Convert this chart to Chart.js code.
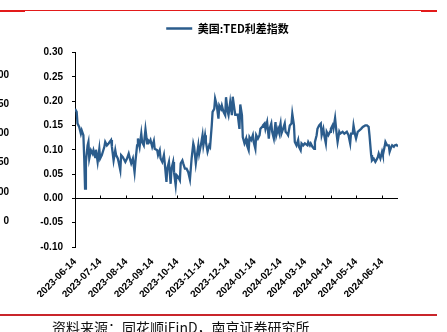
<!DOCTYPE html>
<html>
<head>
<meta charset="utf-8">
<script src="https://cdn.jsdelivr.net/npm/chart.js@4.4.0/dist/chart.umd.min.js"></script>
<style>
  html, body { margin: 0; padding: 0; background: #fff; }
  #wrap { position: relative; width: 447px; height: 332px; overflow: hidden; background: #fff; }
  #c { position: absolute; left: 0; top: 0; }
  .redTop { position: absolute; left: 0; top: 10px; width: 437px; height: 1px; background: #e31a1a; }
  .tab { position: absolute; top: 10px; height: 2px; background: #e31a1a; }
  .redBottom { position: absolute; left: 0; top: 314px; width: 437px; height: 2px; background: #c9252b; }
  .source { position: absolute; left: 52px; top: 320px; font-family: "Noto Sans CJK SC", sans-serif; font-size: 14px; line-height: 14px; color: #111; white-space: nowrap; }
  .cut { position: absolute; left: -21px; width: 30px; text-align: right; font-family: "Liberation Sans", Arial, sans-serif; font-weight: bold; font-size: 10px; line-height: 12px; color: #000; }
</style>
</head>
<body>
<div id="wrap">
  <canvas id="c" width="447" height="332"></canvas>
  <div class="redTop"></div>
  <div class="tab" style="left:0;width:25px"></div>
  <div class="tab" style="left:421px;width:16px"></div>
  <div class="redBottom"></div>
  <div class="source">资料来源：同花顺iFinD，南京证券研究所</div>
  <div class="cut" style="top:69px">00</div>
  <div class="cut" style="top:98px">50</div>
  <div class="cut" style="top:127px">00</div>
  <div class="cut" style="top:156px">50</div>
  <div class="cut" style="top:186px">00</div>
  <div class="cut" style="top:215px">0</div>
</div>
<script>
// Series: US TED spread (美国:TED利差指数)
const seriesName = '美国:TED利差指数';
const startDate = '2023-06-14';
// days since 2023-06-14
const dayOffsets = [
  0,2,3,5,7,8,10,11,12,13,15,16,17,19,21,22,24,25,27,29,30,32,35,36,38,40,43,44,46,48,
  49,51,52,54,55,57,60,62,64,66,67,69,71,72,74,75,77,79,80,82,84,86,87,89,90,92,94,95,98,99,
  101,102,104,106,107,109,110,112,114,115,117,118,120,121,123,125,126,128,129,131,133,135,137,139,141,142,144,145,147,148,
  150,152,153,155,156,158,160,161,163,164,166,167,169,171,172,174,175,177,179,180,182,183,185,187,188,190,191,194,196,197,
  199,200,202,204,205,207,208,210,212,213,215,216,218,220,221,223,224,226,227,229,231,232,234,235,237,239,240,242,243,245,
  246,248,250,251,253,254,256,258,259,261,262,264,266,267,269,270,272,274,277,278,280,281,283,285,286,288,289,291,293,294,
  296,297,299,300,302,304,305,307,308,310,312,313,315,316,319,321,324,326,328,329,331,332,334,335,337,339,341,343,346,348,
  350,351,353,354,356,358,359,361,362,364,366,367,369,370,372,374,375,377,378,380,381,383,385
];
const tedSpread = [
  0.184,0.178,0.154,0.147,0.133,0.140,0.130,0.082,0.020,0.075,0.109,0.116,0.082,0.099,0.092,0.099,0.085,0.100,0.075,0.102,0.082,0.089,0.106,0.116,0.109,0.113,0.120,0.106,0.078,0.099,
  0.089,0.082,0.075,0.058,0.089,0.085,0.075,0.082,0.092,0.078,0.072,0.082,0.054,0.075,0.109,0.123,0.106,0.133,0.116,0.109,0.142,0.113,0.120,0.116,0.120,0.106,0.118,0.102,0.099,0.089,
  0.099,0.082,0.075,0.089,0.072,0.034,0.061,0.075,0.030,0.061,0.075,0.054,0.027,0.048,0.044,0.037,0.072,0.078,0.072,0.061,0.061,0.054,0.039,0.082,0.113,0.106,0.072,0.085,0.109,0.092,
  0.109,0.130,0.109,0.130,0.116,0.096,0.109,0.106,0.150,0.178,0.184,0.205,0.191,0.164,0.191,0.184,0.191,0.178,0.171,0.208,0.178,0.171,0.198,0.171,0.209,0.184,0.172,0.172,0.143,0.193,
  0.171,0.126,0.113,0.123,0.109,0.099,0.126,0.120,0.130,0.116,0.102,0.130,0.123,0.130,0.143,0.147,0.150,0.154,0.143,0.157,0.123,0.143,0.154,0.137,0.123,0.157,0.130,0.143,0.137,0.154,
  0.133,0.143,0.154,0.137,0.133,0.130,0.150,0.154,0.174,0.150,0.116,0.109,0.120,0.106,0.099,0.113,0.109,0.113,0.109,0.116,0.109,0.113,0.106,0.102,0.116,0.130,0.143,0.150,0.154,0.130,
  0.143,0.130,0.113,0.137,0.130,0.137,0.143,0.150,0.143,0.165,0.130,0.116,0.137,0.133,0.137,0.133,0.137,0.130,0.113,0.133,0.133,0.150,0.130,0.123,0.137,0.140,0.143,0.147,0.150,0.150,
  0.147,0.130,0.089,0.078,0.082,0.075,0.078,0.085,0.092,0.082,0.096,0.089,0.106,0.116,0.109,0.109,0.096,0.106,0.109,0.106,0.109,0.110,0.107
];
const tickLabels = ['2023-06-14','2023-07-14','2023-08-14','2023-09-14','2023-10-14','2023-11-14','2023-12-14',
  '2024-01-14','2024-02-14','2024-03-14','2024-04-14','2024-05-14','2024-06-14'];
const yTicks = [-0.10,-0.05,0.00,0.05,0.10,0.15,0.20,0.25,0.30];
const lastDay = 385;

const DAY = 86400000;
const dayOf = s => Math.round((Date.parse(s) - Date.parse(startDate)) / DAY);
const tickDays = tickLabels.map(dayOf);
const labelByDay = {};
tickLabels.forEach((l, i) => { labelByDay[tickDays[i]] = l; });

const points = dayOffsets.map((d, i) => ({ x: d, y: tedSpread[i] }));
const lineColor = '#2b5c8c';

const layoutPatch = {
  id: 'layoutPatch',
  beforeLayout(chart) {
    const lg = chart.legend;
    if (lg && !lg.__patched) {
      const f = lg.fit;
      lg.fit = function () { f.call(this); this.height += 8.5; };
      lg.__patched = true;
    }
  },
  beforeDraw(chart) {
    // centre the legend a little left of the plot centre, as in the source layout
    const lg = chart.legend, ca = chart.chartArea;
    if (lg) { lg.left = ca.left - 18; lg.right = ca.right; }
  }
};

const zeroAxis = {
  id: 'zeroAxis',
  afterDatasetsDraw(chart) {
    const { ctx, chartArea, scales } = chart;
    const y0 = Math.round(scales.y.getPixelForValue(0)) + 0.5;
    ctx.save();
    ctx.strokeStyle = '#000';
    ctx.lineWidth = 1;
    ctx.beginPath();
    ctx.moveTo(chartArea.left, y0);
    ctx.lineTo(chartArea.right, y0);
    scales.x.ticks.forEach(t => {
      const px = Math.round(scales.x.getPixelForValue(t.value)) + 0.5;
      ctx.moveTo(px, y0);
      ctx.lineTo(px, y0 - 3);
    });
    ctx.stroke();
    ctx.restore();
  }
};

new Chart(document.getElementById('c'), {
  type: 'line',
  data: {
    datasets: [{
      label: seriesName,
      data: points,
      borderColor: lineColor,
      backgroundColor: lineColor,
      borderWidth: 2.3,
      pointRadius: 0,
      tension: 0,
      fill: false
    }]
  },
  options: {
    responsive: false,
    animation: false,
    devicePixelRatio: 1,
    layout: { padding: { left: 0, right: 49, top: 13, bottom: 35 } },
    plugins: {
      legend: {
        display: true,
        position: 'top',
        labels: {
          usePointStyle: true,
          pointStyle: 'line',
          pointStyleWidth: 26,
          boxHeight: 11,
          padding: 10,
          color: '#000',
          font: { family: '"Noto Sans CJK SC", sans-serif', size: 11, weight: 'bold' }
        }
      },
      tooltip: { enabled: false }
    },
    scales: {
      x: {
        type: 'linear',
        min: 0,
        max: lastDay,
        afterBuildTicks(scale) { scale.ticks = tickDays.map(v => ({ value: v })); },
        afterFit(scale) { scale.paddingLeft = 0; scale.paddingRight = 0; scale.height = 50; },
        grid: { display: false },
        border: { display: false },
        ticks: {
          autoSkip: false,
          minRotation: 45,
          maxRotation: 45,
          padding: 1,
          color: '#000',
          font: { family: '"Liberation Sans", Arial, sans-serif', size: 10, weight: 'bold' },
          callback: v => labelByDay[v] || ''
        }
      },
      y: {
        min: -0.1,
        max: 0.3,
        afterBuildTicks(scale) { scale.ticks = yTicks.map(v => ({ value: v })); },
        afterFit(scale) { scale.width = 75; },
        grid: { display: true, drawOnChartArea: false, drawTicks: true, tickLength: 3, color: '#000' },
        border: { display: true, color: '#000', width: 1 },
        ticks: {
          padding: 9,
          color: '#000',
          font: { family: '"Liberation Sans", Arial, sans-serif', size: 10, weight: 'bold' },
          callback: v => v.toFixed(2)
        }
      }
    }
  },
  plugins: [layoutPatch, zeroAxis]
});
</script>
</body>
</html>
